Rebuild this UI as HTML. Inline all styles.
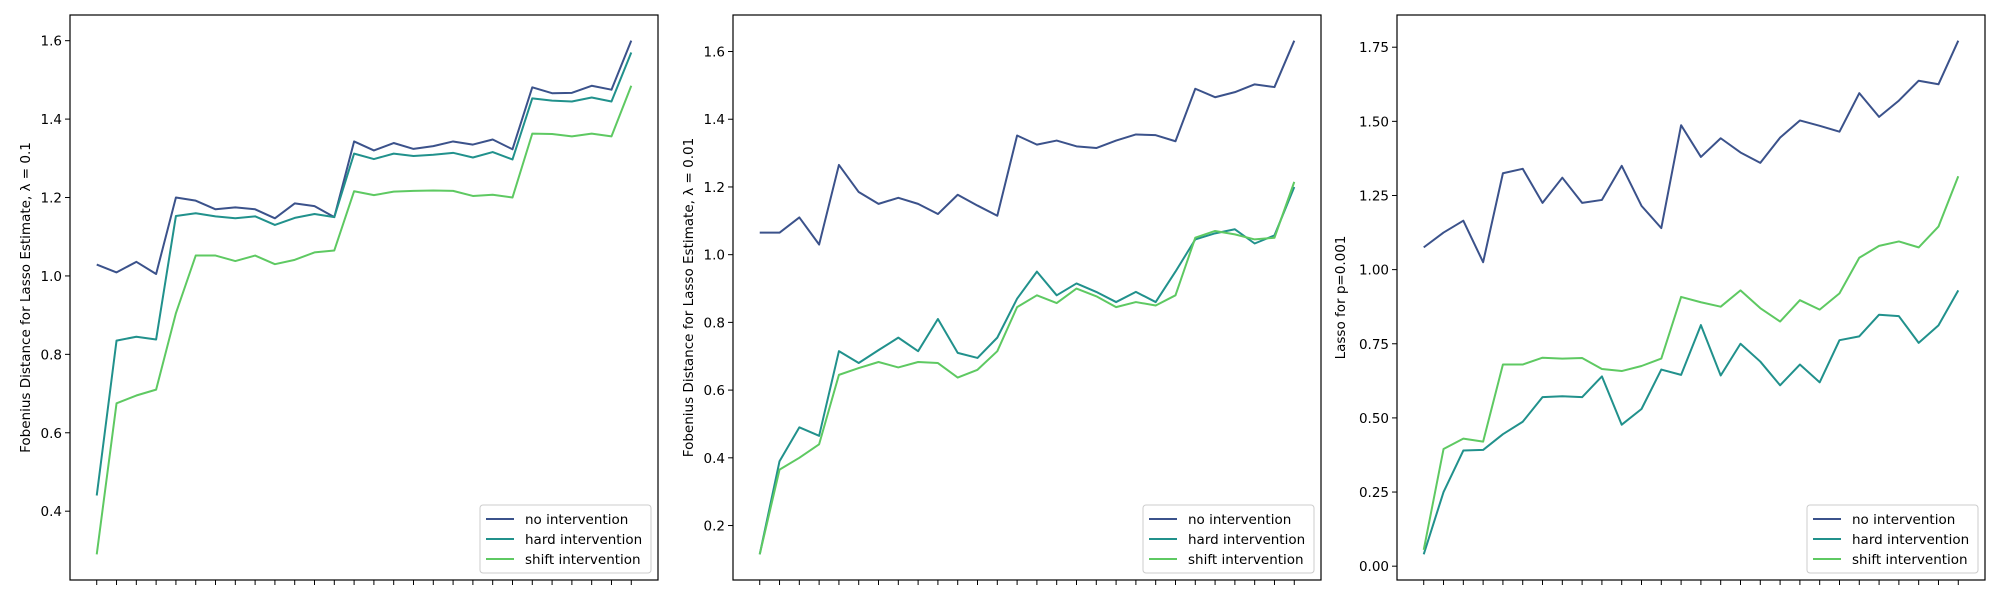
<!DOCTYPE html>
<html><head><meta charset="utf-8"><style>
html,body{margin:0;padding:0;background:#fff;}
svg{display:block;font-family:"DejaVu Sans","Liberation Sans",sans-serif;}
</style></head><body>
<svg id="fig" width="2000" height="600" viewBox="0 0 2000 600" xmlns="http://www.w3.org/2000/svg"></svg>
<script>
const seriesNames = ["no intervention","hard intervention","shift intervention"];
const seriesColors = ["#3b528b","#21918c","#5ec962"];
const p1No = [1.029,1.009,1.036,1.005,1.2,1.192,1.17,1.175,1.17,1.147,1.185,1.178,1.15,1.343,1.32,1.339,1.324,1.331,1.343,1.335,1.348,1.323,1.481,1.466,1.467,1.485,1.475,1.6];
const p1Hard = [0.44,0.835,0.845,0.838,1.153,1.16,1.152,1.147,1.152,1.13,1.148,1.158,1.15,1.312,1.298,1.312,1.306,1.309,1.314,1.302,1.316,1.297,1.453,1.447,1.445,1.455,1.445,1.57];
const p1Shift = [0.29,0.675,0.695,0.71,0.905,1.052,1.052,1.038,1.052,1.03,1.041,1.06,1.065,1.216,1.206,1.215,1.217,1.218,1.217,1.204,1.207,1.2,1.363,1.362,1.356,1.363,1.356,1.485];
const p2No = [1.065,1.065,1.11,1.03,1.265,1.185,1.15,1.168,1.15,1.12,1.177,1.145,1.115,1.352,1.325,1.337,1.32,1.315,1.337,1.355,1.353,1.335,1.49,1.465,1.48,1.503,1.495,1.632];
const p2Hard = [0.115,0.39,0.49,0.465,0.715,0.68,0.718,0.755,0.715,0.81,0.71,0.695,0.755,0.87,0.95,0.88,0.915,0.89,0.86,0.89,0.86,0.95,1.045,1.063,1.075,1.033,1.057,1.2];
const p2Shift = [0.115,0.365,0.4,0.44,0.645,0.665,0.683,0.667,0.683,0.68,0.637,0.66,0.715,0.845,0.88,0.857,0.9,0.877,0.845,0.86,0.85,0.88,1.05,1.07,1.06,1.045,1.05,1.215];
const p3No = [1.075,1.125,1.165,1.025,1.325,1.34,1.225,1.31,1.225,1.235,1.35,1.215,1.14,1.487,1.38,1.443,1.395,1.36,1.445,1.503,1.485,1.465,1.595,1.515,1.57,1.637,1.625,1.772];
const p3Hard = [0.04,0.25,0.39,0.392,0.445,0.487,0.57,0.573,0.57,0.64,0.477,0.53,0.663,0.645,0.813,0.643,0.75,0.69,0.61,0.68,0.62,0.762,0.775,0.848,0.843,0.753,0.812,0.93];
const p3Shift = [0.055,0.395,0.43,0.42,0.68,0.68,0.703,0.7,0.702,0.665,0.658,0.675,0.7,0.908,0.89,0.875,0.93,0.87,0.825,0.897,0.865,0.92,1.04,1.08,1.095,1.075,1.145,1.315];
const p1Ticks = [0.4,0.6,0.8,1.0,1.2,1.4,1.6];
const p2Ticks = [0.2,0.4,0.6,0.8,1.0,1.2,1.4,1.6];
const p3Ticks = [0.0,0.25,0.5,0.75,1.0,1.25,1.5,1.75];
const p1Label = "Fobenius Distance for Lasso Estimate, \u03BB = 0.1";
const p2Label = "Fobenius Distance for Lasso Estimate, \u03BB = 0.01";
const p3Label = "Lasso for p=0.001";

const NS="http://www.w3.org/2000/svg";
const fig=document.getElementById('fig');
function mk(tag,attrs,parent){const e=document.createElementNS(NS,tag);for(const k in attrs)e.setAttribute(k,attrs[k]);(parent||fig).appendChild(e);return e;}

function panel(idx,L,R,T,B,series,ticks,dec,label){
  const g=mk('g',{});
  
  
  const n=series[0].length;
  let mn=Infinity,mx=-Infinity;
  series.forEach(s=>s.forEach(v=>{mn=Math.min(mn,v);mx=Math.max(mx,v);}));
  const pad=(mx-mn)*0.05; const y0=mn-pad,y1=mx+pad;
  const xm=(n-1)*0.05;
  const xs=i=>L+(i+xm)/((n-1)+2*xm)*(R-L);
  const ys=v=>B-(v-y0)/(y1-y0)*(B-T);
  // lines
  series.forEach((s,si)=>{
    const p=mk('polyline',{points:s.map((v,i)=>xs(i).toFixed(2)+','+ys(v).toFixed(2)).join(' '),fill:'none',stroke:seriesColors[si],'stroke-width':2,'stroke-linejoin':'round'},g);
    
    
  });
  // frame
  const fr=mk('rect',{x:L,y:T,width:R-L,height:B-T,fill:'none',stroke:'#000','stroke-width':1.2},g);
  
  
  // x ticks
  for(let i=0;i<n;i++){
    const t=mk('line',{x1:xs(i),x2:xs(i),y1:B,y2:B+5,stroke:'#000','stroke-width':1},g);
    
    
  }
  // y ticks
  ticks.forEach(v=>{
    const y=ys(v);
    const t=mk('line',{x1:L-5,x2:L,y1:y,y2:y,stroke:'#000','stroke-width':1},g);
    
    
    const tx=mk('text',{x:L-8,y:y+5,'text-anchor':'end','font-size':13.5,fill:'#000'},g);
    tx.textContent=v.toFixed(dec);
    
    
  });
  // y label
  const lx=dec===2?L-52:L-40, ly=(T+B)/2;
  const yl=mk('text',{x:lx,y:ly,transform:'rotate(-90 '+lx+' '+ly+')','text-anchor':'middle','font-size':13.5,fill:'#000'},g);
  yl.textContent=label;
  
  
  // legend
  const lw=171,lh=68,lxL=R-7-lw,lyT=B-7-lh;
  const lg=mk('g',{},g);
  
  
  mk('rect',{x:lxL,y:lyT,width:lw,height:lh,rx:3,fill:'#fff','fill-opacity':0.8,stroke:'#ccc','stroke-width':1},lg);
  seriesNames.forEach((nm,si)=>{
    const yy=lyT+14+si*20;
    const e=mk('g',{},lg);
    
    
    mk('line',{x1:lxL+6,x2:lxL+34,y1:yy,y2:yy,stroke:seriesColors[si],'stroke-width':2},e);
    const t=mk('text',{x:lxL+45,y:yy+5,'font-size':13.5,fill:'#000'},e);
    t.textContent=nm;
  });
}
panel(0,70,658,15,580,[p1No,p1Hard,p1Shift],p1Ticks,1,p1Label);
panel(1,733,1321,15,580,[p2No,p2Hard,p2Shift],p2Ticks,1,p2Label);
panel(2,1397,1985,15,580,[p3No,p3Hard,p3Shift],p3Ticks,2,p3Label);
</script>
</body></html>
